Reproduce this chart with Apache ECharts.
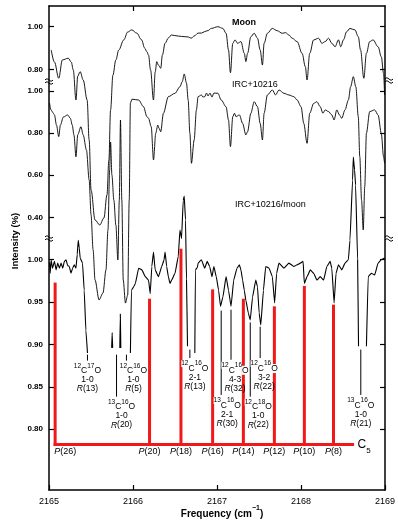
<!DOCTYPE html>
<html><head><meta charset="utf-8">
<script src="https://cdn.jsdelivr.net/npm/echarts@6/dist/echarts.min.js"></script>
<style>html,body{margin:0;padding:0;background:#fff}#c{width:398px;height:524px}</style>
</head><body><div id="c"></div>
<script>
// ---------- tick labels ----------
const xTicks = [2165, 2166, 2167, 2168, 2169];
const topTicks = [2166, 2168];
const moonTicks = [0.80, 1.00];
const ircTicks = [0.40, 0.60, 0.80, 1.00];
const ratioTicks = [0.80, 0.85, 0.90, 0.95, 1.00];

// ---------- Moon spectrum ----------
const moonX = [2165.026,2165.065,2165.116,2165.159,2165.230,2165.265,2165.289,2165.321,2165.342,2165.371,2165.407,2165.454,2165.478,2165.501,2165.548,2165.604,2165.654,2165.690,2165.713,2165.733,2165.761,2165.796,2165.831,2165.890,2165.937,2165.985,2166.044,2166.103,2166.138,2166.165,2166.185,2166.209,2166.244,2166.264,2166.283,2166.303,2166.330,2166.350,2166.382,2166.421,2166.456,2166.539,2166.618,2166.657,2166.692,2166.728,2166.775,2166.814,2166.854,2166.893,2166.932,2167.011,2167.070,2167.108,2167.137,2167.160,2167.188,2167.215,2167.246,2167.285,2167.325,2167.344,2167.364,2167.403,2167.443,2167.482,2167.514,2167.541,2167.561,2167.600,2167.659,2167.718,2167.777,2167.816,2167.856,2167.895,2167.954,2168.013,2168.052,2168.072,2168.104,2168.151,2168.210,2168.249,2168.288,2168.328,2168.367,2168.406,2168.446,2168.473,2168.505,2168.544,2168.583,2168.642,2168.682,2168.709,2168.748,2168.779,2168.818,2168.858,2168.918,2168.956,2168.983,2168.995];
const moonY = [0.891,0.834,0.758,0.844,0.852,0.834,0.797,0.656,0.768,0.789,0.750,0.656,0.468,0.233,0.093,0.069,0.102,0.210,0.374,0.609,0.773,0.844,0.891,0.938,0.975,0.985,0.970,0.938,0.900,0.883,0.867,0.797,0.656,0.787,0.836,0.820,0.805,0.867,0.922,0.947,0.961,0.956,0.953,0.952,0.946,0.956,0.970,0.970,0.977,0.982,0.992,1.000,0.992,0.969,0.891,0.784,0.922,0.938,0.922,0.930,0.875,0.836,0.875,0.953,0.969,0.946,0.891,0.820,0.922,0.969,0.992,0.981,0.969,0.972,0.961,0.946,0.930,0.875,0.812,0.750,0.875,0.938,0.946,0.922,0.930,0.946,0.922,0.906,0.938,0.906,0.938,0.977,0.992,0.985,0.953,0.891,0.758,0.875,0.930,0.938,0.906,0.859,0.781,0.679];

// ---------- IRC+10216 spectrum ----------
const ircX = [2165.006,2165.024,2165.041,2165.065,2165.089,2165.116,2165.136,2165.171,2165.222,2165.254,2165.277,2165.297,2165.321,2165.342,2165.380,2165.407,2165.446,2165.478,2165.501,2165.525,2165.548,2165.596,2165.643,2165.678,2165.702,2165.722,2165.733,2165.749,2165.772,2165.796,2165.820,2165.837,2165.851,2165.867,2165.884,2165.910,2165.937,2165.955,2165.969,2165.988,2166.067,2166.126,2166.165,2166.185,2166.217,2166.244,2166.271,2166.295,2166.311,2166.330,2166.362,2166.421,2166.500,2166.559,2166.586,2166.610,2166.637,2166.657,2166.677,2166.696,2166.728,2166.755,2166.775,2166.814,2166.834,2166.854,2166.875,2166.893,2166.916,2166.940,2166.963,2167.011,2167.050,2167.108,2167.137,2167.160,2167.188,2167.208,2167.226,2167.267,2167.305,2167.344,2167.364,2167.403,2167.443,2167.482,2167.514,2167.541,2167.561,2167.600,2167.659,2167.698,2167.738,2167.797,2167.856,2167.915,2167.954,2168.001,2168.033,2168.072,2168.104,2168.151,2168.190,2168.229,2168.261,2168.288,2168.328,2168.367,2168.394,2168.426,2168.458,2168.485,2168.524,2168.564,2168.591,2168.623,2168.653,2168.682,2168.700,2168.721,2168.741,2168.759,2168.779,2168.818,2168.877,2168.918,2168.956,2168.983,2168.995];
const ircY = [0.944,0.911,0.901,0.887,0.839,0.784,0.839,0.877,0.887,0.871,0.839,0.792,0.688,0.792,0.831,0.792,0.720,0.578,0.411,0.245,0.102,0.007,0.040,0.149,0.340,0.625,0.758,0.601,0.482,0.363,0.197,0.482,0.863,0.482,0.102,-0.008,0.030,0.482,0.944,0.962,0.958,0.926,0.879,0.871,0.831,0.673,0.800,0.839,0.823,0.807,0.895,0.974,0.990,1.021,1.045,1.082,1.038,0.958,0.800,0.657,0.768,0.911,0.974,0.982,0.972,0.974,0.991,0.977,0.991,0.972,0.991,0.990,0.958,0.926,0.863,0.736,0.879,0.895,0.879,0.887,0.847,0.792,0.807,0.895,0.950,0.926,0.847,0.768,0.895,0.982,1.006,0.982,1.006,0.990,0.982,0.974,0.958,0.926,0.847,0.752,0.895,0.942,0.950,0.926,0.895,0.911,0.903,0.887,0.863,0.911,0.887,0.871,0.911,0.958,1.021,1.069,1.021,0.879,0.688,0.482,0.340,0.546,0.800,0.903,0.911,0.887,0.800,0.688,0.657];

// ---------- IRC+10216 / moon ratio (null = blanked) ----------
const ratioX = [2165.006,2165.014,2165.026,2165.041,2165.065,2165.085,2165.104,2165.124,2165.144,2165.163,2165.183,2165.203,2165.222,2165.242,2165.262,2165.281,2165.301,2165.321,2165.336,2165.348,2165.360,2165.371,2165.399,2165.419,2165.439,2165.458,null,2165.746,2165.752,2165.758,null,2165.843,2165.849,2165.855,null,2165.969,2165.981,2166.008,2166.028,2166.067,2166.106,2166.146,2166.185,2166.205,2166.224,2166.244,2166.264,2166.303,2166.342,2166.370,2166.382,2166.401,2166.421,2166.441,2166.460,2166.500,2166.539,2166.559,2166.578,2166.598,2166.610,2166.625,2166.637,2166.649,null,2166.736,2166.743,2166.767,2166.775,2166.814,2166.854,2166.884,2166.913,2166.940,2166.963,2166.991,2167.019,2167.042,2167.070,2167.108,2167.137,2167.167,2167.199,2167.238,2167.267,2167.285,2167.305,2167.325,2167.344,2167.373,2167.396,2167.423,2167.462,2167.482,2167.502,2167.521,2167.553,2167.580,2167.620,2167.659,2167.686,2167.710,2167.738,2167.797,2167.856,2167.915,2167.954,2167.993,2168.025,2168.040,2168.072,2168.111,2168.151,2168.190,2168.229,2168.269,2168.308,2168.347,2168.367,2168.394,2168.417,2168.446,2168.485,2168.524,2168.564,2168.583,2168.614,2168.623,2168.638,2168.650,2168.674,2168.685,null,2168.779,2168.800,2168.838,2168.877,2168.918,2168.956,2168.995];
const ratioY = [0.997,0.984,1.000,0.990,0.998,0.988,0.996,0.990,0.996,0.990,0.998,1.000,0.993,0.992,0.984,0.990,0.994,0.990,1.006,1.023,1.014,1.002,0.996,0.964,0.917,0.890,null,0.896,0.914,0.896,null,0.896,0.936,0.896,null,0.890,0.964,0.968,0.972,0.990,0.988,0.980,0.976,0.960,0.992,1.009,0.988,0.980,0.992,1.000,1.009,0.992,0.980,0.972,0.976,0.984,1.004,1.035,1.025,1.070,1.075,1.047,0.976,0.898,null,0.890,0.988,0.991,0.996,1.000,0.990,0.998,0.992,0.980,0.992,0.980,0.964,0.945,0.956,0.980,0.964,0.945,0.976,0.990,0.994,0.988,0.976,0.964,0.952,0.937,0.929,0.956,0.976,0.968,0.937,0.923,0.964,0.992,0.990,0.980,0.949,0.984,0.996,0.990,0.996,0.992,0.994,0.996,0.998,0.972,0.980,0.988,0.984,0.976,0.980,0.976,0.992,0.998,0.990,0.949,0.984,0.994,0.988,0.996,1.000,1.023,1.094,1.121,1.106,1.088,1.000,0.898,null,0.898,0.980,0.984,0.982,0.996,1.000,1.002];

// ---------- C5 P-branch comb (ratio scale) ----------
const c5Freq = [2165.073, 2166.197, 2166.571, 2166.948, 2167.314, 2167.683, 2168.040, 2168.387];
const c5Top = [0.973, 0.954, 1.013, 0.965, 0.954, 0.945, 0.969, 0.947];
const c5Labels = ['P(26)', 'P(20)', 'P(18)', 'P(16)', 'P(14)', 'P(12)', 'P(10)', 'P(8)'];
const c5Base = 0.782;
const c5End = 2168.614;

// ---------- CO line identifications (ratio scale) ----------
const idFreq = [2165.458, 2165.804, 2165.922, 2166.677, 2167.050, 2167.167, 2167.396, 2167.514, 2168.712];
const idTop = [0.888, 0.888, 0.888, 0.894, 0.940, 0.941, 0.926, 0.921, 0.894];
const idBottom = [0.881, 0.8385, 0.881, 0.884, 0.8405, 0.882, 0.8385, 0.884, 0.8405];
const idMassC = ['12', '13', '12', '12', '13', '12', '12', '12', '13'];
const idMassO = ['17', '16', '16', '16', '16', '16', '18', '16', '16'];
const idBand = ['1-0', '1-0', '1-0', '2-1', '2-1', '4-3', '1-0', '3-2', '1-0'];
const idBranch = ['R(13)', 'R(20)', 'R(5)', 'R(13)', 'R(30)', 'R(32)', 'R(22)', 'R(22)', 'R(21)'];

// ---------- layout / style ----------
const idShift = [0, 5, 7, 5, 6, 4, 8, 4, 0];
const RED = '#f01818';
const FONT = '"Liberation Sans", Arial, Helvetica, sans-serif';
const yRanges = [[-1.1751, 1.0972], [-0.8973, 1.4053], [0.7284, 1.2992]];

function pairs(xs, ys) { const n = Math.min(xs.length, ys.length); const o = []; for (let i = 0; i < n; i++) o.push([xs[i], ys[i]]); return o; }
function segments(xs, ys) {
  const out = []; let cur = [];
  for (let i = 0; i < Math.min(xs.length, ys.length); i++) {
    if (xs[i] === null || ys[i] === null) { if (cur.length) out.push(cur); cur = []; }
    else cur.push([xs[i], ys[i]]);
  }
  if (cur.length) out.push(cur);
  return out;
}
function yAx(range, ticks, pos, showLabel, showLine) {
  return {
    type: 'value', min: range[0], max: range[1], position: pos,
    axisLine: { show: showLine, onZero: false, lineStyle: { color: '#000', width: 1.5 } },
    axisTick: { show: true, inside: true, length: 5, customValues: ticks, lineStyle: { color: '#000', width: 1.2 } },
    axisLabel: { show: showLabel, customValues: ticks, formatter: v => Number(v).toFixed(2), margin: 6,
      color: '#000', fontSize: 8, fontWeight: 'bold', fontFamily: FONT },
    splitLine: { show: false }
  };
}
function spectrum(data, yIdx, w, smooth) {
  return { type: 'line', xAxisIndex: 0, yAxisIndex: yIdx, data: data, showSymbol: false, symbol: 'none',
    smooth: smooth, smoothMonotone: 'x',
    lineStyle: { color: '#000', width: w }, clip: false, z: 2, silent: true };
}

const series = [];
series.push(spectrum(pairs(moonX, moonY), 0, 0.9, 0.35));
series.push(spectrum(pairs(ircX, ircY), 1, 0.9, 0.3));
segments(ratioX, ratioY).forEach(seg => series.push(spectrum(seg, 2, 1.1, 0.1)));

// red baseline
series.push({
  type: 'line', xAxisIndex: 0, yAxisIndex: 2, data: [[c5Freq[0], c5Base], [c5End, c5Base]],
  showSymbol: false, symbol: 'none', lineStyle: { color: RED, width: 3, cap: 'square' }, z: 3, silent: true,
  endLabel: { show: true, distance: 5, formatter: '{c|C}{s|5}',
    rich: { c: { fontSize: 12, lineHeight: 20, verticalAlign: 'middle', fontFamily: FONT, color: '#000' },
            s: { fontSize: 8, lineHeight: 8, verticalAlign: 'bottom', fontFamily: FONT, color: '#000' } } }
});
// red comb
series.push({
  type: 'custom', xAxisIndex: 0, yAxisIndex: 2, z: 3, silent: true,
  data: c5Freq.map((f, i) => [f, c5Top[i], i]),
  renderItem: function (params, api) {
    const x = api.value(0), top = api.value(1), i = api.value(2);
    const p1 = api.coord([x, c5Base]), p2 = api.coord([x, top]);
    const lab = c5Labels[i];
    return { type: 'group', children: [
      { type: 'line', shape: { x1: p1[0], y1: p1[1] + 1.5, x2: p2[0], y2: p2[1] }, style: { stroke: RED, lineWidth: 3 } },
      { type: 'text', x: p1[0] + (i === 0 ? 10 : 0), y: p1[1] + 2,
        style: { text: '{i|P}{n|' + lab.slice(1) + '}', align: 'center', verticalAlign: 'top',
          rich: { i: { fontSize: 9, fontStyle: 'italic', fontFamily: FONT, fill: '#000' },
                  n: { fontSize: 9, fontFamily: FONT, fill: '#000' } } } }
    ] };
  }
});
// line identifications
series.push({
  type: 'custom', xAxisIndex: 0, yAxisIndex: 2, z: 5, silent: true,
  data: idFreq.map((f, i) => [f, idTop[i], idBottom[i], i]),
  renderItem: function (params, api) {
    const x = api.value(0), top = api.value(1), bot = api.value(2), i = api.value(3);
    const p1 = api.coord([x, top]), p2 = api.coord([x, bot]);
    const txt = '{s|' + idMassC[i] + '}{b|C}{s|' + idMassO[i] + '}{b|O}\n{m|' + idBand[i] + '}\n{i|' + idBranch[i].charAt(0) + '}{m|' + idBranch[i].slice(1) + '}';
    return { type: 'group', children: [
      { type: 'line', shape: { x1: p1[0], y1: p1[1], x2: p2[0], y2: p2[1] }, style: { stroke: '#000', lineWidth: 1 } },
      { type: 'text', x: p2[0] + idShift[i], y: p2[1] + 2,
        style: { text: txt, align: 'center', verticalAlign: 'top',
          rich: {
            s: { fontSize: 6.5, lineHeight: 13, verticalAlign: 'top', fontFamily: FONT, fill: '#000', backgroundColor: '#fff' },
            b: { fontSize: 8.5, lineHeight: 13, verticalAlign: 'bottom', fontFamily: FONT, fill: '#000', backgroundColor: '#fff' },
            m: { fontSize: 8.5, lineHeight: 9, fontFamily: FONT, fill: '#000' },
            i: { fontSize: 8.5, lineHeight: 9, fontStyle: 'italic', fontFamily: FONT, fill: '#000' }
          } } }
    ] };
  }
});

function breakMark(x, y) {
  return { type: 'group', x: x, y: y, z: 100, children: [
    { type: 'rect', shape: { x: -4, y: -2.5, width: 8, height: 5 }, style: { fill: '#fff' } },
    { type: 'bezierCurve', shape: { x1: -4, y1: -1, x2: 4, y2: -1, cpx1: -1, cpy1: -5, cpx2: 1, cpy2: 3 }, style: { stroke: '#000', fill: null, lineWidth: 1 } },
    { type: 'bezierCurve', shape: { x1: -4, y1: 2, x2: 4, y2: 2, cpx1: -1, cpy1: -2, cpx2: 1, cpy2: 6 }, style: { stroke: '#000', fill: null, lineWidth: 1 } }
  ] };
}

const option = {
  animation: false,
  backgroundColor: '#fff',
  grid: { left: 49, right: 9, top: 6, bottom: 34, containLabel: false },
  xAxis: [
    { type: 'value', min: 2165, max: 2169, position: 'bottom',
      axisLine: { onZero: false, lineStyle: { color: '#000', width: 1.5 } },
      axisTick: { inside: true, length: 5, customValues: xTicks, lineStyle: { color: '#000', width: 1.2 } },
      axisLabel: { customValues: xTicks, formatter: v => String(Math.round(v)), margin: 7, fontSize: 9, color: '#000', fontFamily: FONT },
      splitLine: { show: false } },
    { type: 'value', min: 2165, max: 2169, position: 'top',
      axisLine: { onZero: false, lineStyle: { color: '#000', width: 1.5 } },
      axisTick: { inside: true, length: 5, customValues: topTicks, lineStyle: { color: '#000', width: 1.2 } },
      axisLabel: { show: false }, splitLine: { show: false } }
  ],
  yAxis: [
    yAx(yRanges[0], moonTicks, 'left', true, true),
    yAx(yRanges[1], ircTicks, 'left', true, false),
    yAx(yRanges[2], ratioTicks, 'left', true, false),
    yAx(yRanges[0], moonTicks, 'right', false, true),
    yAx(yRanges[1], ircTicks, 'right', false, false),
    yAx(yRanges[2], ratioTicks, 'right', false, false)
  ],
  series: series,
  graphic: [
    breakMark(49, 81), breakMark(49, 238), breakMark(389, 80), breakMark(389, 238),
    { type: 'text', x: 232, y: 23, style: { text: 'Moon', font: 'bold 9px ' + FONT, fill: '#000', verticalAlign: 'middle' } },
    { type: 'text', x: 232, y: 85, style: { text: 'IRC+10216', font: '9px ' + FONT, fill: '#000', verticalAlign: 'middle' } },
    { type: 'text', x: 235, y: 205, style: { text: 'IRC+10216/moon', font: '9px ' + FONT, fill: '#000', verticalAlign: 'middle' } },
    { type: 'text', x: 15, y: 241, rotation: Math.PI / 2,
      style: { text: 'Intensity (%)', font: 'bold 9.5px ' + FONT, fill: '#000', align: 'center', verticalAlign: 'middle' } },
    { type: 'text', x: 222, y: 512,
      style: { text: '{t|Frequency (cm}{u|−1}{t|)}', align: 'center', verticalAlign: 'middle',
        rich: { t: { fontSize: 10, fontWeight: 'bold', fontFamily: FONT, fill: '#000', lineHeight: 14, verticalAlign: 'bottom' },
                u: { fontSize: 7, fontWeight: 'bold', fontFamily: FONT, fill: '#000', lineHeight: 14, verticalAlign: 'top' } } } }
  ]
};
const chart = echarts.init(document.getElementById('c'), null, { renderer: 'canvas' });
chart.setOption(option);
</script>
</body></html>
